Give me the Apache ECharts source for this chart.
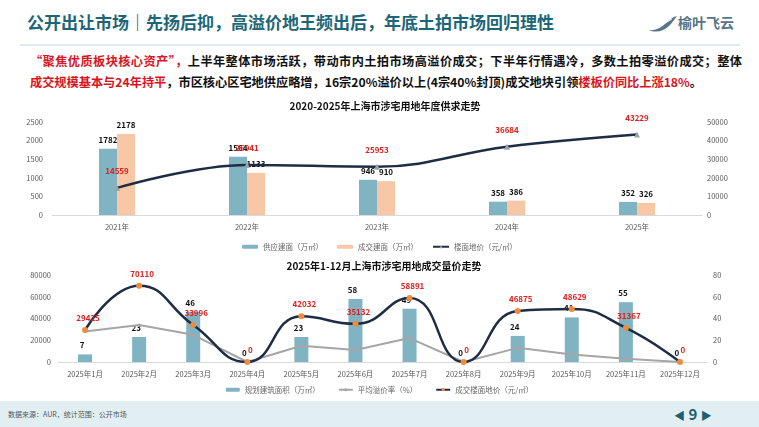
<html>
<head>
<meta charset="utf-8">
<title>公开出让市场</title>
<script src="https://cdn.jsdelivr.net/npm/echarts@6/dist/echarts.min.js"></script>
<style>
  body { margin: 0; width: 759px; height: 427px; overflow: hidden; background: #fff; font-family: "Noto Sans CJK SC", sans-serif; position: relative; }
  .head { position: absolute; left: 27px; top: 9px; font-size: 17px; font-weight: bold; color: #1d6678; white-space: nowrap; }
  .logo { position: absolute; left: 648px; top: 12px; height: 22px; white-space: nowrap; color: #587487; font-weight: bold; font-size: 14px; }
  .logo svg { vertical-align: middle; }
  .sep { position: absolute; left: 20px; top: 44px; width: 720px; height: 2px; background: #dfe9ee; }
  .txt { position: absolute; left: 30px; width: 712px; font-size: 12.2px; font-weight: bold; color: #111; white-space: nowrap; }
  .l1 { top: 52px; text-align: justify; text-align-last: justify; }
  .l2 { top: 73px; }
  .red { color: #d9141e; }
  .foot { position: absolute; left: 0; top: 401px; width: 759px; height: 26px; background: #e2eff2; }
  .src { position: absolute; left: 8px; top: 8px; font-size: 7px; color: #555; }
  .page { position: absolute; left: 674px; top: 2px; font-size: 15px; font-weight: bold; color: #1d5f73; }
  .page span { font-size: 11px; }
  #main { position: absolute; left: 0; top: 0; width: 759px; height: 427px; }
</style>
</head>
<body>
<div class="head">公开出让市场｜先扬后抑，高溢价地王频出后，年底土拍市场回归理性</div>
<div class="logo">
  <svg width="30" height="18" viewBox="0 0 30 18"><path d="M1 15 C8 16 14 12 18 8 C21 5 25 2 29 1 C25 6 22 12 15 15 C10 17 5 17 1 15 Z" fill="#587487"/><path d="M3 14 C10 12 16 9 24 4" stroke="#fff" stroke-width="1" fill="none"/></svg>榆叶飞云
</div>
<div class="sep"></div>
<div class="txt l1"><span class="red">“聚焦优质板块核心资产”，</span>上半年整体市场活跃，带动市内土拍市场高溢价成交；下半年行情遇冷，多数土拍零溢价成交；整体</div>
<div class="txt l2"><span class="red">成交规模基本与24年持平</span>，市区核心区宅地供应略增，16宗20%溢价以上(4宗40%封顶)成交地块引领<span class="red">楼板价同比上涨18%</span>。</div>
<div class="foot">
  <div class="src">数据来源：AUR，统计范围：公开市场</div>
  <div class="page"><span>◀</span> 9 <span>▶</span></div>
</div>
<div id="main"></div>
<script type="text/javascript">
  // 年度供求
  var years = ['2021年', '2022年', '2023年', '2024年', '2025年'];
  var supplyArea = [1782, 1564, 946, 358, 352];
  var dealArea = [2178, 1133, 910, 386, 326];
  var floorPrice = [14559, 26941, 25953, 36684, 43229];

  // 2025年月度
  var months = ['2025年1月', '2025年2月', '2025年3月', '2025年4月', '2025年5月', '2025年6月',
    '2025年7月', '2025年8月', '2025年9月', '2025年10月', '2025年11月', '2025年12月'];
  var planArea = [7, 23, 46, 0, 23, 58, 49, 0, 24, 41, 55, 0];
  var premiumRate = [28, 34, 25, 0, 15, 11, 22, 0, 13, 7, 3, 0];
  var monthPrice = [29425, 70110, 33996, 0, 42032, 35132, 58891, 0, 46875, 48629, 31367, 0];

  function plain(v) { return String(v); }
  function axisText(m) {
    return { color: '#595959', fontSize: 7.5, margin: m, formatter: plain };
  }
  var redLabel = { show: true, position: 'top', color: '#e0201e', fontSize: 8, fontWeight: 'bold' };
  var blackLabel = { show: true, position: 'top', color: '#111', fontSize: 8, fontWeight: 'bold' };

  var myChart = echarts.init(document.getElementById('main'));
  var option = {
    textStyle: { fontFamily: 'Noto Sans CJK SC' },
    animation: false,
    title: [{
      text: '2020-2025年上海市涉宅用地年度供求走势', left: 380, top: 96, textAlign: 'center',
      textStyle: { fontSize: 10, fontWeight: 'bold', color: '#111' }
    }, {
      text: '2025年1-12月上海市涉宅用地成交量价走势', left: 379, top: 256, textAlign: 'center',
      textStyle: { fontSize: 10, fontWeight: 'bold', color: '#111' }
    }],
    legend: [{
      data: ['供应建面（万㎡）', '成交建面（万㎡）', '楼面地价（元/㎡）'],
      left: 'center', top: 238, itemWidth: 16, itemHeight: 4, itemGap: 14,
      textStyle: { color: '#666', fontSize: 7.5 }
    }, {
      data: ['规划建筑面积（万㎡）', '平均溢价率（%）', '成交楼面地价（元/㎡）'],
      left: 'center', top: 381, itemWidth: 14, itemHeight: 4, itemGap: 18,
      textStyle: { color: '#666', fontSize: 7.5 }
    }],
    grid: [
      { left: 52, right: 57, top: 122, height: 93 },
      { left: 58, right: 52, top: 275, height: 87 }
    ],
    xAxis: [{
      type: 'category', data: years, gridIndex: 0,
      axisLine: { lineStyle: { color: '#d9d9d9' } }, axisTick: { show: false },
      axisLabel: { color: '#595959', fontSize: 7.5 }
    }, {
      type: 'category', data: months, gridIndex: 1,
      axisLine: { lineStyle: { color: '#d9d9d9' } }, axisTick: { show: false },
      axisLabel: { color: '#595959', fontSize: 7.5 }
    }],
    yAxis: [{
      type: 'value', gridIndex: 0, min: 0, max: 2500, interval: 500,
      splitLine: { show: false }, axisLabel: axisText(9)
    }, {
      type: 'value', gridIndex: 0, min: 0, max: 50000, interval: 10000, position: 'right',
      splitLine: { show: false }, axisLabel: axisText(5)
    }, {
      type: 'value', gridIndex: 1, min: 0, max: 80000, interval: 20000,
      splitLine: { show: false }, axisLabel: axisText(7)
    }, {
      type: 'value', gridIndex: 1, min: 0, max: 80, interval: 20, position: 'right',
      splitLine: { show: false }, axisLabel: axisText(6)
    }],
    series: [{
      name: '供应建面（万㎡）', type: 'bar', xAxisIndex: 0, yAxisIndex: 0,
      data: supplyArea, barWidth: 18, barGap: '0%',
      itemStyle: { color: '#80b4c3' }, label: blackLabel
    }, {
      name: '成交建面（万㎡）', type: 'bar', xAxisIndex: 0, yAxisIndex: 0,
      data: dealArea, barWidth: 18,
      itemStyle: { color: '#f8c7a5' }, label: blackLabel
    }, {
      name: '楼面地价（元/㎡）', type: 'line', xAxisIndex: 0, yAxisIndex: 1,
      data: floorPrice, smooth: 0.4, symbol: 'triangle', symbolSize: 6,
      lineStyle: { color: '#1f2d44', width: 2.5 },
      itemStyle: { color: '#9aa3ab' },
      label: Object.assign({ distance: 10 }, redLabel), z: 5
    }, {
      name: '规划建筑面积（万㎡）', type: 'bar', xAxisIndex: 1, yAxisIndex: 3,
      data: planArea, barWidth: 14,
      itemStyle: { color: '#80b4c3' }, label: Object.assign({ offset: [-3, 0] }, blackLabel)
    }, {
      name: '平均溢价率（%）', type: 'line', xAxisIndex: 1, yAxisIndex: 3,
      data: premiumRate, symbol: 'circle', symbolSize: 3,
      lineStyle: { color: '#a6a6a6', width: 2 }, itemStyle: { color: '#a6a6a6' }, z: 4
    }, {
      name: '成交楼面地价（元/㎡）', type: 'line', xAxisIndex: 1, yAxisIndex: 2,
      data: monthPrice, smooth: 0.5, symbol: 'circle', symbolSize: 6,
      lineStyle: { color: '#1f2d44', width: 2.5 },
      itemStyle: { color: '#f08a3c' },
      label: Object.assign({ offset: [3, 0] }, redLabel), z: 5
    }]
  };
  myChart.setOption(option);
</script>
</body>
</html>
